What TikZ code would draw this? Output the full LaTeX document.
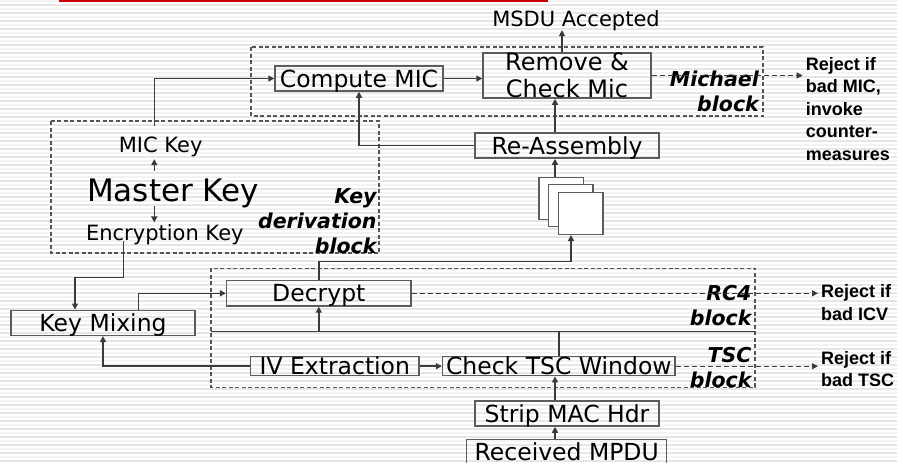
\documentclass[tikz,border=0pt]{standalone}
\usepackage{fontspec}
\setmainfont{DejaVu Sans}
\newfontfamily\rejectfont{Liberation Sans}
\usetikzlibrary{arrows.meta,calc,positioning}
\definecolor{tkipInk}{HTML}{3A3A3A}
\definecolor{tkipFrame}{HTML}{5C5C5C}
\definecolor{tkipDash}{HTML}{555555}
\definecolor{tkipStripe}{HTML}{E6E6E6}
\definecolor{tkipStripeLt}{HTML}{F3F3F3}
\definecolor{tkipRed}{HTML}{CC0000}
\newcommand\tkipBoxFont{\fontsize{23.5}{27}\selectfont}
\newcommand\tkipKeyFont{\fontsize{21}{25}\selectfont}
\newcommand\tkipMasterFont{\fontsize{31}{36}\selectfont}
\newcommand\tkipBlockFont{\fontsize{20.5}{25}\selectfont\bfseries\itshape}
\newcommand\tkipRejectFont{\rejectfont\fontsize{18}{22.5}\selectfont\bfseries}
\begin{document}
\begin{tikzpicture}[x=1pt,y=-1pt,>={Triangle[length=6pt,width=6pt]}]
\useasboundingbox (0,0) rectangle (897,463);
\path[fill=white] (0,0) rectangle (897,463);
\foreach \yy in {0,8,...,456} \path[fill=tkipStripeLt] (0,\yy) rectangle (897,\yy+2);
\foreach \yy in {4,12,...,460} \path[fill=tkipStripe] (0,\yy) rectangle (897,\yy+2);
\path[fill=tkipRed] (59,0) rectangle (548,1.6);
\tikzset{wire/.style={draw=tkipInk,line width=1.5pt},boxbase/.style={draw=tkipFrame,line width=1.5pt,inner sep=0pt,font=\tkipBoxFont},box/.style={boxbase,text height=17.1pt,text depth=0pt},blockline/.style={draw=tkipDash,line width=1.2pt,dash pattern=on 4pt off 2.5pt},rejectwire/.style={draw=tkipInk,line width=1.2pt,dash pattern=on 5pt off 3pt,shorten >=3pt},blocklbl/.style={font=\tkipBlockFont,inner sep=0pt,align=right,anchor=east},rejectlbl/.style={font=\tkipRejectFont,inner sep=0pt,align=left,anchor=west},keylbl/.style={inner sep=0pt,text height=15.3pt,text depth=0pt,font=\tkipKeyFont},frag/.style={draw=tkipFrame,fill=white,line width=1.5pt,minimum width=44.5pt,minimum height=42pt,inner sep=0pt}}
% dashed blocks
\draw[blockline] (251,47) rectangle (763,116);
\draw[blockline] (51,121) rectangle (379,253);
\draw[blockline] (211,268.3) rectangle (755,387.3);
% michael block
\node[box,minimum width=168pt,minimum height=25pt] (cmic) at (359,78.5) {Compute MIC};
\node[boxbase,align=center,minimum width=168pt,minimum height=44pt,font=\fontsize{24}{27}\selectfont] (remchk) at (567,75.5) {Remove \&\\Check Mic};
\node[keylbl] (msdu) at (576,18.8) {MSDU Accepted};
\node[blocklbl] (michael) at (759,91.5) {Michael\\block};
\node[rejectlbl] (rejmic) at (805.7,108.7) {Reject if\\bad MIC,\\invoke\\counter-\\measures};
% reassembly and fragments
\coordinate (spine) at (555,0);
\node[box,minimum width=184pt,minimum height=25pt] (reasm) at (567,145.5) {Re-Assembly};
\node[frag] (sq1) at (561,198.3) {};
\node[frag] (sq2) at (570.8,205.7) {};
\node[frag] (sq3) at (580.7,213.3) {};
% key derivation block
\coordinate (keyx) at (154.3,0);
\node[keylbl] (mickey) at (160.7,145.3) {MIC Key};
\node[keylbl,text height=22.6pt,font=\tkipMasterFont] (master) at (173.2,190) {Master Key};
\node[keylbl] (enckey) at (164.8,233.3) {Encryption Key};
\node[blocklbl] (keyderiv) at (376.7,220.7) {Key\\derivation\\block};
% rc4 and tsc blocks
\node[box,minimum width=184pt,minimum height=25pt] (keymix) at (103,322.8) {Key Mixing};
\node[box,minimum width=184.3pt,minimum height=25.3pt] (decrypt) at (318.8,293.3) {Decrypt};
\node[box,minimum width=168.3pt,minimum height=19pt] (ivext) at (334.8,366.2) {IV Extraction};
\node[box,minimum width=232.3pt,minimum height=19pt] (chktsc) at (558.8,366.2) {Check TSC Window};
\node[blocklbl] (rcblk) at (751.7,305.5) {RC4\\block};
\node[blocklbl] (tscblk) at (751.7,367.5) {TSC\\block};
\node[rejectlbl] (rejicv) at (821,302.5) {Reject if\\bad ICV};
\node[rejectlbl] (rejtsc) at (821,369) {Reject if\\bad TSC};
\node[box,minimum width=184pt,minimum height=25pt] (strip) at (567,413.5) {Strip MAC Hdr};
\node[box,minimum width=200pt,minimum height=25pt] (rxmpdu) at (566.7,451.8) {Received MPDU};
% connectors
\draw[wire,->] (cmic.east) -- (cmic.east -| remchk.west);
\draw[wire,->,shorten >=3.5pt] ([xshift=-5pt]remchk.north) -- ([xshift=-5pt]remchk.north |- msdu.south);
\draw[wire,->] (spine |- reasm.north) -- (spine |- remchk.south);
\draw[wire,->] (reasm.west) -| (cmic.south);
\draw[wire,->] (spine |- sq1.north) -- (spine |- reasm.south);
\draw[wire,->,shorten <=8pt,shorten >=6pt] (keyx |- master.north) -- (keyx |- mickey.south);
\draw[wire,->,shorten <=4pt,shorten >=3pt] (keyx |- master.south) -- (keyx |- enckey.north);
\draw[wire,->,shorten <=11pt] (keyx |- mickey.north) |- (cmic.west);
\coordinate (encbend) at (123.3,277.3);
\coordinate (mixdrop) at (75,277.3);
\draw[wire,->] (encbend |- enckey.south) -- (encbend) -- (mixdrop) -- (mixdrop |- keymix.north);
\coordinate (mixrise) at (138.3,0);
\draw[wire,->] (mixrise |- keymix.north) |- (decrypt.west);
\coordinate (fragin) at (571,261.7);
\draw[wire,->] (decrypt.north) |- (fragin) -- (fragin |- sq3.south);
\coordinate (busW) at (211,331.7);
\coordinate (busE) at (755,331.7);
\draw[wire] (busW) -- (busE);
\draw[wire,->] (decrypt.south |- busW) -- (decrypt.south);
\draw[wire] (chktsc.north) -- (chktsc.north |- busW);
\draw[wire,->] (ivext.east) -- (chktsc.west);
\draw[wire,->] (ivext.west) -| (keymix.south);
\draw[wire,->] (spine |- strip.north) -- (spine |- chktsc.south);
\draw[wire,->] (spine |- rxmpdu.north) -- (spine |- strip.south);
\draw[rejectwire,->] (remchk.east) -- (remchk.east -| rejmic.west);
\draw[rejectwire,->] (decrypt.east) -- (decrypt.east -| rejicv.west);
\draw[rejectwire,->] (chktsc.east) -- (chktsc.east -| rejtsc.west);
\end{tikzpicture}
\end{document}
